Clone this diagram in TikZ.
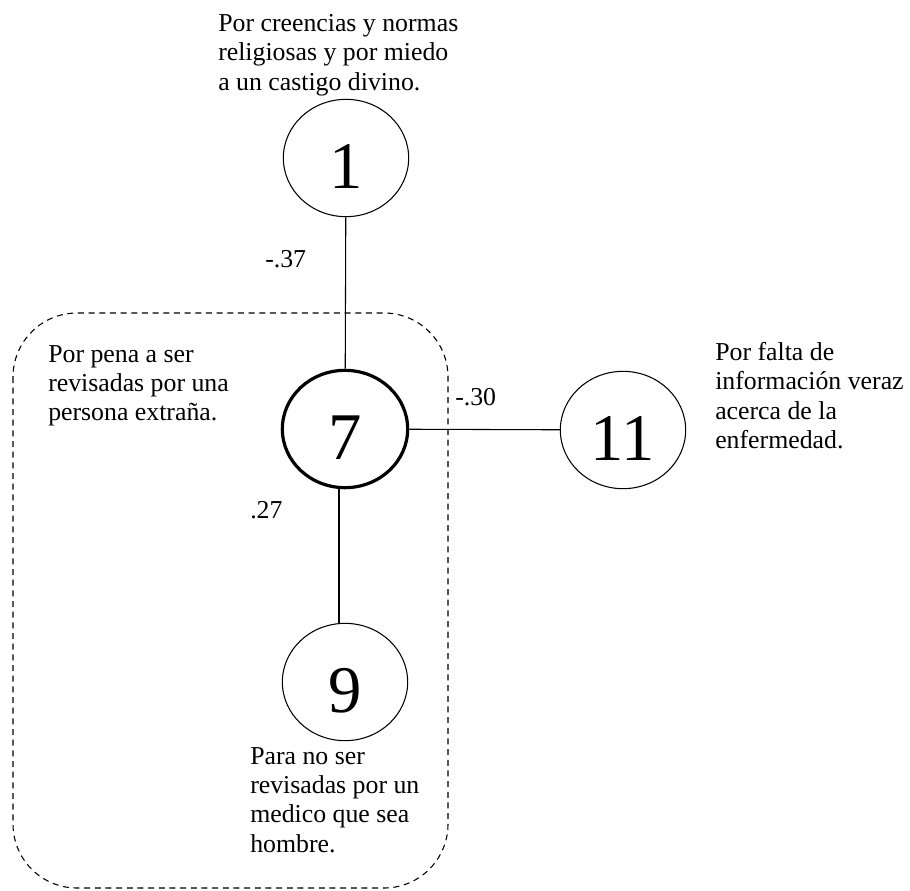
\documentclass[tikz,border=0pt]{standalone}
\usepackage{fontspec}
\setmainfont{Liberation Serif}
\usetikzlibrary{shapes.geometric}

\tikzset{
  factor/.style={ellipse, draw, line width=0.8pt, inner sep=0pt,
    minimum width=94pt, minimum height=88pt,
    font=\fontsize{50}{50}\selectfont, text height=46pt, text depth=0pt},
  note/.style={align=left, anchor=north west, inner sep=0pt,
    font=\fontsize{19.35}{22}\selectfont},
  weight/.style={anchor=base west, inner sep=0pt,
    font=\fontsize{19.35}{22}\selectfont},
}

\begin{document}
\begin{tikzpicture}[x=0.75pt,y=-0.75pt]
  \useasboundingbox (0,0) rectangle (910,890);
  % dashed group around 7 and 9
  \draw [dashed, dash pattern=on 4.5pt off 3.5pt, line width=0.8pt, rounded corners=48pt]
    (13,313) rectangle (448,888);
  % factors
  \node[factor] (c1) at (346,158) {1};
  \node[factor, line width=2.4pt] (c7) at (345,429) {7};
  \node[factor] (c11) at (623,430) {11};
  \node[factor] (c9) at (345,682) {9};
  % connections
  \draw [line width=0.8pt] (c1) -- (c7);
  \draw [line width=0.8pt] (c7) -- (c11);
  \draw [line width=0.8pt] ([xshift=-4.5pt]c7.south) -- ([xshift=-4.5pt]c9.north);
  % weights
  \node[weight] (w17) at (265,267) {-.37};
  \node[weight] (w711) at (455,405) {-.30};
  \node[weight] (w79) at (250,518) {.27};
  % descriptions
  \node[note] (t1) at (218,14) {Por creencias y normas\\religiosas y por miedo\\a un castigo divino.};
  \node[note] (t7) at (48,345) {Por pena a ser\\revisadas por una\\persona extraña.};
  \node[note] (t11) at (715,342) {Por falta de\\información veraz\\acerca de la\\enfermedad.};
  \node[note] (t9) at (250,747) {Para no ser\\revisadas por un\\medico que sea\\hombre.};
\end{tikzpicture}
\end{document}
